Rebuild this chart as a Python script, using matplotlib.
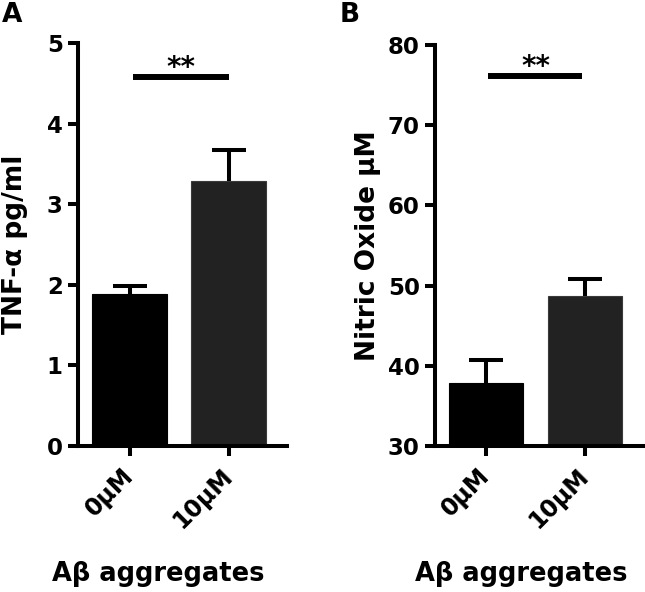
import matplotlib
matplotlib.use("Agg")
import matplotlib.pyplot as plt

plt.rcParams['font.family'] = ['DejaVu Sans']
plt.rcParams['font.weight'] = 'bold'

categories = ["0µM", "10µM"]
tnf_values = [1.89, 3.29]
tnf_errors = [0.09, 0.38]
no_values = [37.86, 48.70]
no_errors = [2.86, 2.12]
bar_colors = ["#000000", "#222222"]

fig = plt.figure(figsize=(6.45, 5.92), dpi=100)

LW = 2.9

def style_axis(ax, ylim, yticks, ylabel, ylabel_x, xlabel_x):
    ax.set_ylim(*ylim)
    ax.set_yticks(yticks)
    ax.set_xlim(-0.52, 1.59)
    ax.set_xticks(range(len(categories)))
    ax.set_xticklabels(categories, rotation=45, ha='right', va='center',
                       rotation_mode='anchor', fontsize=17, fontweight='bold')
    for lab in ax.get_yticklabels():
        lab.set_fontsize(16.5)
        lab.set_fontweight('bold')
    ax.spines['top'].set_visible(False)
    ax.spines['right'].set_visible(False)
    for s in ['left', 'bottom']:
        ax.spines[s].set_linewidth(LW)
    ax.tick_params(axis='both', width=LW, length=7, direction='out')
    ax.tick_params(axis='y', pad=4)
    ax.tick_params(axis='x', pad=12)
    ax.set_ylabel(ylabel, fontsize=19, fontweight='bold', va='center')
    ax.yaxis.set_label_coords(ylabel_x, 0.5)
    ax.set_xlabel("Aβ aggregates", fontsize=18.5, fontweight='bold', va='center')
    ax.xaxis.set_label_coords(xlabel_x, -0.318)


def draw_panel(ax, values, errors, base):
    x = list(range(len(categories)))
    ax.bar(x, [v - base for v in values], bottom=base, width=0.75,
           color=bar_colors, edgecolor=["#000000", "#3a3a3a"], linewidth=0.8, zorder=2)
    _, caps, _ = ax.errorbar(x, values, yerr=[[0] * len(errors), errors], fmt='none',
                             ecolor='black', elinewidth=LW, capsize=12.5, capthick=LW, zorder=3)
    caps[0].set_visible(False)


# Panel A
axA = fig.add_axes([78 / 645, 1 - 446 / 592, 209 / 645, 403 / 592])
draw_panel(axA, tnf_values, tnf_errors, 0)
style_axis(axA, (0, 5), [0, 1, 2, 3, 4, 5], "TNF-α pg/ml", -0.30, 0.383)
axA.plot([0.04, 1.0], [4.58, 4.58], color='black', lw=4.3, solid_capstyle='butt', clip_on=False)
axA.text(0.52, 4.52, "**", ha='center', va='bottom', fontsize=20, fontweight='bold')

# Panel B
axB = fig.add_axes([435 / 645, 1 - 446 / 592, 208 / 645, 401 / 592])
draw_panel(axB, no_values, no_errors, 30)
style_axis(axB, (30, 80), [30, 40, 50, 60, 70, 80], "Nitric Oxide µM", -0.322, 0.413)
axB.plot([0.02, 0.97], [76.1, 76.1], color='black', lw=4.3, solid_capstyle='butt', clip_on=False)
axB.text(0.50, 75.5, "**", ha='center', va='bottom', fontsize=20, fontweight='bold')

fig.text(2 / 645, 1 - 2 / 592, "A", ha='left', va='top', fontsize=19, fontweight='bold')
fig.text(340 / 645, 1 - 2 / 592, "B", ha='left', va='top', fontsize=19, fontweight='bold')

fig.savefig("out.png", dpi=100)
